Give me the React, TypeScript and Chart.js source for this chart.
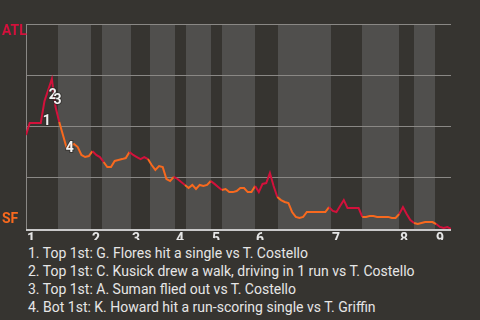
import { useEffect, useRef } from "react";
import { Chart, registerables } from "chart.js";

Chart.register(...registerables);

const AWAY = "ATL";
const HOME = "SF";
const innings = ["1", "2", "3", "4", "5", "6", "7", "8", "9"];

// Event index at which each half inning begins: top 1st, bot 1st, top 2nd, ...
const halfInningStarts = [0, 8.7, 17.6, 20.6, 28.4, 33.5, 40.3, 43.3, 50.1, 53.0, 62.0, 68.2, 82.5, 90.9, 100.9, 105.0, 110.7];
const lastEvent = 115;

// ATL win probability (%) after each event
const winProb = [
  45.9, 51.7, 51.7, 51.7, 51.7, 62.4, 67.8, 73.2, 59.5, 52.2,
  45.9, 39.5, 40.5, 41.5, 40.0, 36.1, 35.1, 35.6, 38.0, 36.1,
  35.1, 32.7, 30.2, 30.2, 33.2, 33.7, 34.1, 34.6, 37.6, 36.1,
  35.1, 34.1, 35.1, 34.1, 31.2, 28.8, 30.7, 30.2, 24.4, 23.4,
  25.4, 24.4, 22.9, 21.5, 20.0, 21.5, 19.5, 21.5, 21.0, 21.5,
  23.4, 22.0, 20.5, 19.0, 19.5, 18.0, 18.0, 18.5, 20.0, 20.0,
  18.0, 18.0, 21.0, 18.0, 22.0, 22.4, 27.3, 21.0, 15.6, 14.1,
  13.2, 12.7, 8.3, 5.9, 5.4, 5.9, 8.3, 8.3, 8.3, 8.3,
  8.3, 8.3, 10.7, 8.8, 8.3, 11.2, 14.1, 10.2, 10.2, 10.2,
  10.2, 5.9, 5.9, 6.3, 6.3, 5.9, 5.9, 5.9, 5.9, 5.4,
  5.4, 7.3, 10.7, 7.3, 4.4, 2.9, 2.4, 2.9, 3.4, 3.4,
  3.4, 2.4, 1.0, 0.5, 1.0, 0.0,
];

// Key plays called out on the line
const keyPlayEvents = [4, 7, 8, 11];
const keyPlays = [
  "Top 1st: G. Flores hit a single vs T. Costello",
  "Top 1st: C. Kusick drew a walk, driving in 1 run vs T. Costello",
  "Top 1st: A. Suman flied out vs T. Costello",
  "Bot 1st: K. Howard hit a run-scoring single vs T. Griffin",
];

const BG = "#363430";
const BAND = "#504f4d";
const GRID = "#8a8885";
const AXIS = "#c9c9c9";
const RED = "#d3113b";
const ORANGE = "#f8691e";
const TEXT = "#e6e6e6";
const FONT = "Roboto, 'Noto Sans', sans-serif";

// label nudges (px) so the numbers sit beside their points
const noteOffsets = [
  [6, -2],
  [1, 17],
  [2, -7],
  [3, 0],
];

function halfInningAt(x: number) {
  let k = 0;
  for (let i = 0; i < halfInningStarts.length; i++) {
    if (halfInningStarts[i] <= x) k = i;
  }
  return k;
}

const backdrop = {
  id: "backdrop",
  beforeDraw(chart: any) {
    const { ctx, chartArea: a, scales } = chart;
    const xs = scales.x;
    const ys = scales.y;
    ctx.save();
    ctx.fillStyle = BG;
    ctx.fillRect(0, 0, chart.width, chart.height);

    // half-inning bands: bottom halves shaded lighter
    for (let k = 0; k < halfInningStarts.length; k++) {
      const x0 = xs.getPixelForValue(halfInningStarts[k]);
      const x1 = xs.getPixelForValue(k + 1 < halfInningStarts.length ? halfInningStarts[k + 1] : lastEvent);
      ctx.fillStyle = k % 2 ? BAND : BG;
      ctx.fillRect(Math.round(x0), a.top, Math.round(x1) - Math.round(x0), a.bottom - a.top);
    }

    // horizontal grid
    ctx.fillStyle = GRID;
    for (const v of [25, 50, 75, 100]) {
      const py = Math.floor(ys.getPixelForValue(v));
      ctx.fillRect(a.left, py, a.right - a.left, 1);
    }

    // axes
    ctx.fillStyle = GRID;
    ctx.fillRect(a.left, a.top, 1, a.bottom - a.top);
    ctx.fillStyle = AXIS;
    ctx.fillRect(a.left, a.bottom, a.right - a.left, 2);

    // team labels
    ctx.font = `bold 14px ${FONT}`;
    ctx.textBaseline = "middle";
    ctx.textAlign = "left";
    ctx.fillStyle = RED;
    ctx.fillText(AWAY, 2, ys.getPixelForValue(96.5));
    ctx.fillStyle = ORANGE;
    ctx.fillText(HOME, 2, ys.getPixelForValue(4.5));

    // inning numbers at the start of each inning
    ctx.font = `bold 14px ${FONT}`;
    ctx.fillStyle = TEXT;
    innings.forEach((lab, i) => {
      const px = xs.getPixelForValue(halfInningStarts[i * 2]);
      ctx.fillText(lab, Math.round(px) + 1, a.bottom + 10);
    });
    ctx.restore();
  },
  afterDatasetsDraw(chart: any) {
    const { ctx, scales } = chart;
    ctx.save();
    ctx.font = `bold 14px ${FONT}`;
    ctx.textAlign = "center";
    ctx.textBaseline = "middle";
    keyPlayEvents.forEach((ev, i) => {
      const px = scales.x.getPixelForValue(ev) + noteOffsets[i][0];
      const py = scales.y.getPixelForValue(winProb[ev]) + noteOffsets[i][1];
      ctx.lineWidth = 2;
      ctx.strokeStyle = "rgba(40,38,35,0.6)";
      ctx.strokeText(String(i + 1), px, py);
      ctx.fillStyle = "#f2f2f2";
      ctx.fillText(String(i + 1), px, py);
    });
    ctx.restore();
  },
};

export default function App() {
  const ref = useRef<HTMLCanvasElement>(null);

  useEffect(() => {
    const chart = new Chart(ref.current!, {
      type: "line",
      data: {
        datasets: [
          {
            data: winProb.map((v, i) => ({ x: i, y: v })),
            borderWidth: 2,
            pointRadius: 0,
            tension: 0,
            borderColor: RED,
            segment: {
              borderColor: (c: any) => (halfInningAt(c.p0.parsed.x + 0.5) % 2 ? ORANGE : RED),
            },
          },
        ],
      },
      options: {
        animation: false,
        responsive: false,
        layout: { padding: { left: 26, right: 29, top: 24, bottom: 11 } },
        plugins: { legend: { display: false }, tooltip: { enabled: false } },
        scales: {
          x: { type: "linear", min: 0, max: lastEvent, display: false },
          y: { min: 0, max: 100, display: false },
        },
      },
      plugins: [backdrop],
    });
    return () => chart.destroy();
  }, []);

  return (
    <div
      style={{
        position: "fixed",
        left: 0,
        top: 0,
        width: 480,
        height: 320,
        background: BG,
        overflow: "hidden",
      }}
    >
      <canvas ref={ref} width={480} height={240} style={{ display: "block" }} />
      <div
        style={{
          position: "absolute",
          left: 28,
          top: 244,
          fontFamily: FONT,
          fontSize: 14,
          lineHeight: "18px",
          color: TEXT,
          whiteSpace: "nowrap",
        }}
      >
        {keyPlays.map((t, i) => (
          <div key={i}>{`${i + 1}. ${t}`}</div>
        ))}
      </div>
    </div>
  );
}
